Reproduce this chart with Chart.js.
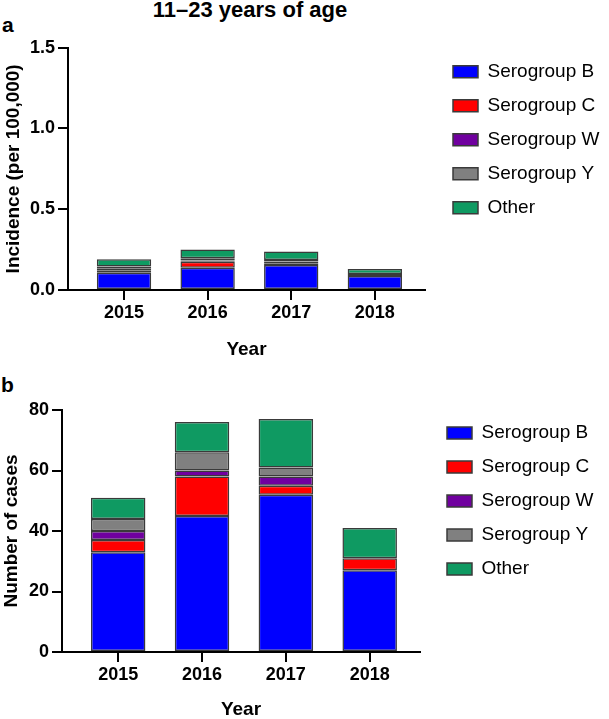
<!DOCTYPE html>
<html>
<head>
<meta charset="utf-8">
<script src="https://cdn.jsdelivr.net/npm/chart.js@4.4.1/dist/chart.umd.min.js"></script>
<style>
  body { margin: 0; background: #fff; }
  #wrap { position: relative; width: 609px; height: 719px; font-family: 'Liberation Sans', Arial, sans-serif; }
  #wrap canvas { position: absolute; left: 0; }
  .txt { position: absolute; font-weight: bold; color: #000; white-space: nowrap; }
  #title { left: 0; width: 500px; text-align: center; top: -1px; font-size: 22px; line-height: 22px; }
  #labA { left: 2px; top: 14px; font-size: 21px; line-height: 21px; }
  #labB { left: 1px; top: 374px; font-size: 21px; line-height: 21px; }
</style>
</head>
<body>
<div id="wrap">
  <div class="txt" id="title">11–23 years of age</div>
  <div class="txt" id="labA">a</div>
  <div class="txt" id="labB">b</div>
  <canvas id="chartA" width="609" height="365" style="top:0"></canvas>
  <canvas id="chartB" width="609" height="354" style="top:365px"></canvas>
</div>
<script>
const years = ['2015', '2016', '2017', '2018'];
const groups = ['Serogroup B', 'Serogroup C', 'Serogroup W', 'Serogroup Y', 'Other'];
const colors = ['#0000ff', '#ff0000', '#70009f', '#808080', '#0f9a62'];

/* a: incidence per 100,000 */
const incB = [0.107, 0.138, 0.155, 0.087];
const incC = [0.015, 0.037, 0.010, 0.012];
const incW = [0.012, 0.008, 0.011, 0];
const incY = [0.011, 0.013, 0.009, 0];
const incOther = [0.045, 0.054, 0.054, 0.031];

/* b: number of cases */
const casesB = [33, 45, 52, 27];
const casesC = [4, 13, 3, 4];
const casesW = [3, 2, 3, 0];
const casesY = [4, 6, 3, 0];
const casesOther = [7, 10, 16, 10];

Chart.defaults.font.family = "'Liberation Sans', Arial, sans-serif";
Chart.defaults.color = '#000';

const tickFont = { size: 18, weight: 'bold' };
const titleFont = { size: 19, weight: 'bold', lineHeight: 1 };

function makeChart(id, series, yMax, yStep, yFmt, yTitle, geo) {
    const datasets = series.map((vals, k) => ({
        label: groups[k],
        data: vals.map((v, i) => ({ x: i, y: v })),
        backgroundColor: colors[k],
        borderColor: '#3a3a3a',
        borderWidth: 1.5,
        borderSkipped: false,
        barPercentage: 0.65,
        categoryPercentage: 1
    }));
    //mover la leyenda a su sitio
    const legendPlace = {
        id: 'legendPlace',
        beforeInit(chart) {
            const fit0 = chart.legend.fit;
            chart.legend.fit = function () {
                fit0.bind(chart.legend)();
                this.width = geo.legendW;
            };
        },
        afterLayout(chart) {
            chart.legend.left = geo.boxX - 15;
            chart.legend.top = geo.rowY - 15 - 9.5;
        }
    };
    return new Chart(document.getElementById(id), {
        type: 'bar',
        data: { datasets },
        options: {
            responsive: false,
            animation: false,
            events: [],
            layout: { padding: { top: geo.top, left: 0, right: 0, bottom: 0 } },
            scales: {
                x: {
                    type: 'linear',
                    stacked: true,
                    offset: false,
                    min: -0.67,
                    max: 3.6,
                    afterBuildTicks: axis => { axis.ticks = years.map((y, i) => ({ value: i })); },
                    afterFit: scale => { scale.height = geo.xH; },
                    ticks: { font: tickFont, padding: 2, maxRotation: 0, callback: v => years[v] },
                    grid: { offset: false, drawOnChartArea: false, drawTicks: true, tickLength: 10, lineWidth: 2, color: '#000' },
                    border: { display: true, width: 2, color: '#000' },
                    title: { display: true, text: 'Year', font: titleFont, padding: { top: 0, bottom: geo.xTitlePad } }
                },
                y: {
                    stacked: true,
                    min: 0,
                    max: yMax,
                    afterFit: scale => { scale.width = geo.yW; },
                    ticks: { font: tickFont, padding: 3, stepSize: yStep, callback: yFmt },
                    grid: { drawOnChartArea: false, drawTicks: true, tickLength: 10, lineWidth: 2, color: '#000' },
                    border: { display: true, width: 2, color: '#000' },
                    title: { display: true, text: yTitle, font: titleFont, padding: { top: geo.yTitlePad, bottom: 0 } }
                }
            },
            plugins: {
                tooltip: { enabled: false },
                legend: {
                    position: 'right',
                    align: 'start',
                    labels: {
                        boxWidth: 25,
                        boxHeight: 12,
                        padding: 15,
                        color: '#000',
                        font: { size: 19 }
                    }
                }
            }
        },
        plugins: [legendPlace]
    });
}

makeChart('chartA', [incB, incC, incW, incY, incOther], 1.5, 0.5, v => v.toFixed(1),
    'Incidence (per 100,000)',
    { top: 47.7, xH: 75, yW: 68, legendW: 184, boxX: 453, rowY: 71.7, xTitlePad: 5.5, yTitlePad: 4.5 });

makeChart('chartB', [casesB, casesC, casesW, casesY, casesOther], 80, 20, v => v,
    'Number of cases',
    { top: 45, xH: 67, yW: 62, legendW: 189, boxX: 447, rowY: 68, xTitlePad: 0, yTitlePad: 2.5 });
</script>
</body>
</html>
